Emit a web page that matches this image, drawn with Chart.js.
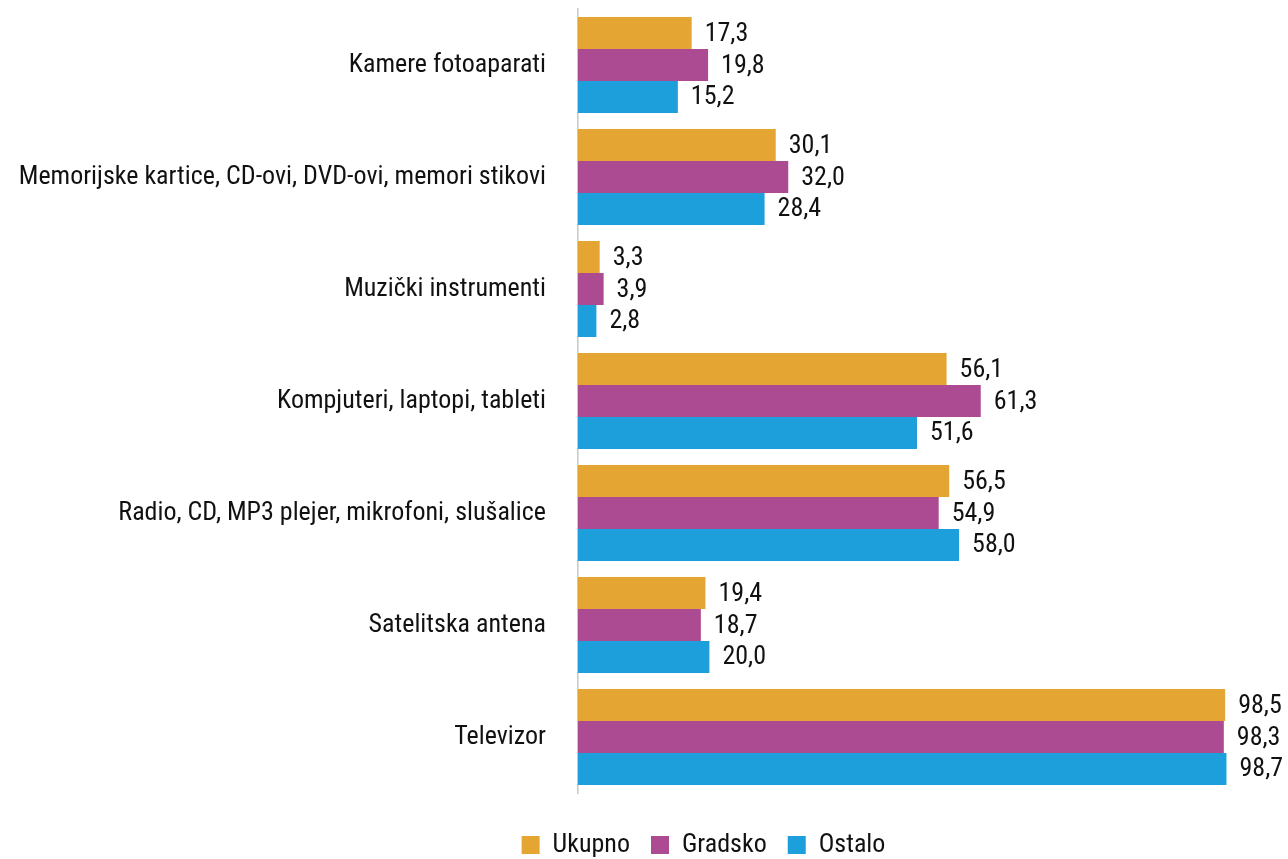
<!DOCTYPE html>
<html>
<head>
<meta charset="utf-8">
<script src="https://cdn.jsdelivr.net/npm/chart.js@4"></script>
<style>
  html, body { margin: 0; padding: 0; background: #fff; overflow: hidden; }
  #wrap { width: 1288px; height: 859px; }
</style>
</head>
<body>
<div id="wrap"><canvas id="chart"></canvas></div>
<script>
const categories = [
  "Kamere fotoaparati",
  "Memorijske kartice, CD-ovi, DVD-ovi, memori stikovi",
  "Muzički instrumenti",
  "Kompjuteri, laptopi, tableti",
  "Radio, CD, MP3 plejer, mikrofoni, slušalice",
  "Satelitska antena",
  "Televizor"
];
const ukupno  = [17.3, 30.1, 3.3, 56.1, 56.5, 19.4, 98.5];
const gradsko = [19.8, 32.0, 3.9, 61.3, 54.9, 18.7, 98.3];
const ostalo  = [15.2, 28.4, 2.8, 51.6, 58.0, 20.0, 98.7];

const FONT = "'Roboto Condensed', 'DejaVu Sans Condensed', sans-serif";
const FS = 26;

// value labels to the right of each bar
const barLabels = {
  id: "barLabels",
  afterDatasetsDraw(chart) {
    const ctx = chart.ctx;
    ctx.save();
    ctx.font = FS + "px " + FONT;
    ctx.fillStyle = "#111";
    ctx.textAlign = "left";
    ctx.textBaseline = "middle";
    chart.data.datasets.forEach((ds, i) => {
      chart.getDatasetMeta(i).data.forEach((bar, j) => {
        ctx.fillText(ds.data[j].toFixed(1).replace(".", ","), bar.x + 13, bar.y + 1);
      });
    });
    ctx.restore();
  }
};

// centre the legend under the reference position
const legendShift = {
  id: "legendShift",
  afterLayout(chart) {
    const lg = chart.legend;
    lg.left += 172;
    lg.top += 18;
    lg.bottom += 18;
  }
};

new Chart(document.getElementById("chart"), {
  type: "bar",
  data: {
    labels: categories,
    datasets: [
      { label: "Ukupno",  data: ukupno,  backgroundColor: "#E5A533" },
      { label: "Gradsko", data: gradsko, backgroundColor: "#AC4B91" },
      { label: "Ostalo",  data: ostalo,  backgroundColor: "#1C9FDA" }
    ]
  },
  options: {
    indexAxis: "y",
    responsive: true,
    maintainAspectRatio: false,
    animation: false,
    datasets: { bar: { categoryPercentage: 0.857, barPercentage: 1.0 } },
    layout: { padding: { top: 9, right: 53, bottom: 9, left: 0 } },
    scales: {
      x: { display: false, min: 0, max: 100 },
      y: {
        afterFit(s) { s.width = 578; s.paddingTop = 0; s.paddingBottom = 0; },
        grid: { display: false, drawTicks: false },
        border: { display: true, color: "#c8c8c8", width: 1.5 },
        ticks: { color: "#111", padding: 32, font: { family: FONT, size: FS } }
      }
    },
    plugins: {
      tooltip: { enabled: false },
      legend: {
        position: "bottom",
        labels: {
          boxWidth: 18, boxHeight: 18, padding: 21, color: "#111",
          font: { family: FONT, size: FS }
        }
      }
    }
  },
  plugins: [barLabels, legendShift]
});
</script>
</body>
</html>
